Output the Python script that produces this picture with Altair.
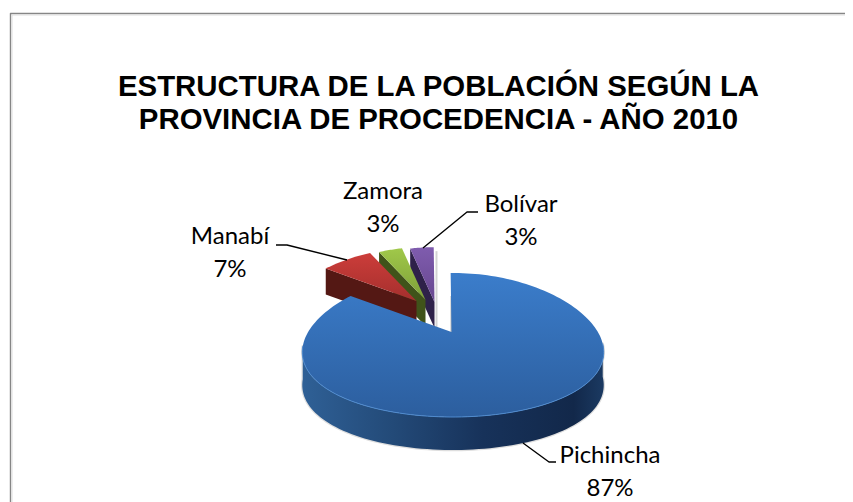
import math
import altair as alt

# ---- values ----
PROVINCES = ["Pichincha", "Manabí", "Zamora", "Bolívar"]
SHARES = [87.2, 6.7, 3.1, 3.0]
PERCENT_LABELS = ["87%", "7%", "3%", "3%"]
TITLE_LINES = ["ESTRUCTURA DE LA POBLACIÓN SEGÚN LA", "PROVINCIA DE PROCEDENCIA - AÑO 2010"]

# ---- layout (page pixels) ----
W, H = 837, 494
CX, CY, RX, RY = 453, 345, 150, 72
APEX = (451.5, 332)
DEPTH = 33
PERSP = 0.10
ROT = -1.0
EXPLODE = {"Manabí": ((416.5, 301), 0.90), "Zamora": ((425.5, 300), 0.90), "Bolívar": ((434.5, 302), 0.93)}
EX_DEPTH = 26
LABEL_POS = {"Pichincha": (610, 463), "Manabí": (230, 244), "Zamora": (383, 199), "Bolívar": (521, 212)}
LEADERS = {
    "Pichincha": [(556, 462), (549, 462), (523, 443)],
    "Manabí": [(276, 245), (287, 245), (347, 260)],
    "Bolívar": [(478, 212), (467, 212), (423, 248)],
}
COLORS = {
    "Manabí": (("#cc3d3a", "#a52f2d"), "#541814"),
    "Zamora": (("#a0c84a", "#7d9f38"), "#40531a"),
    "Bolívar": (("#7f5cae", "#67478f"), "#2e2149"),
}


def rel(theta_deg):
    t = math.radians(theta_deg + ROT)
    f = 1 - PERSP * math.cos(t)
    return (RX * math.sin(t) * f + (CX - APEX[0]), -RY * math.cos(t) + (CY - APEX[1]))


def arc(a0, a1, n=90):
    return [rel(a0 + (a1 - a0) * i / n) for i in range(n + 1)]


def poly(points):
    pts = [[x, -y] for x, y in points]
    pts.append(pts[0])
    return {"type": "Feature", "properties": {}, "geometry": {"type": "Polygon", "coordinates": [pts]}}


def path(points):
    return {"type": "Feature", "properties": {},
            "geometry": {"type": "LineString", "coordinates": [[x, -y] for x, y in points]}}


PROJ = dict(type="identity", reflectY=True, scale=1, translate=[-8, -8])


def fill_layer(feature, fill, **kw):
    return alt.Chart(alt.Data(values=[feature])).mark_geoshape(fill=fill, stroke=None, **kw).project(**PROJ)


def line_layer(feature, color, width):
    return alt.Chart(alt.Data(values=[feature])).mark_geoshape(
        filled=False, stroke=color, strokeWidth=width, strokeJoin="round").project(**PROJ)


def grad(stops, x2=0, y2=1):
    return alt.LinearGradient(gradient="linear", x1=0, y1=0, x2=x2, y2=y2,
                              stops=[alt.GradientStop(color=c, offset=o) for c, o in stops])


layers = []

# frame of the picture
layers.append(line_layer(path([(10.5, 510), (10.5, 13.5), (860, 13.5)]), "#868686", 1.4))
layers.append(line_layer(path([(12, 510), (12, 15), (860, 15)]), "#dddddd", 1))

# slices, from the cumulative shares
angles = []
acc = 0.0
for s in SHARES:
    angles.append((acc, acc + s))
    acc += s
deg = {p: (a * 3.6, b * 3.6) for p, (a, b) in zip(PROVINCES, angles)}

for name in ["Bolívar", "Zamora", "Manabí"]:
    (ax, ay), k = EXPLODE[name]
    a0, a1 = deg[name]
    outer = [(ax + k * x, ay + k * y) for x, y in arc(a0, a1, 16)]
    top = [(ax, ay)] + outer
    p = outer[0]
    wall = [(ax, ay), p, (p[0], p[1] + EX_DEPTH), (ax, ay + EX_DEPTH)]
    (c0, c1), cw = COLORS[name]
    if name == "Bolívar":
        layers.append(line_layer(path([(ax + 2, outer[-1][1] + 4), (ax + 2, ay + EX_DEPTH)]), "#d4d4d4", 2))
    layers.append(fill_layer(poly(wall), cw))
    layers.append(fill_layer(poly(top), grad([(c0, 0), (c1, 1)])))

# main slice
a0, a1 = deg["Pichincha"]
front = [(APEX[0] + x, APEX[1] + y) for x, y in arc(90, 270)]
wall = front + [(x, y + DEPTH) for x, y in reversed(front)]
top = [APEX] + [(APEX[0] + x, APEX[1] + y) for x, y in arc(a0, a1, 180)]
layers.append(line_layer(poly(wall), "#dedede", 2.5))
layers.append(line_layer(path([APEX, (APEX[0], APEX[1] - 36)]), "#b8b8b8", 2))
layers.append(fill_layer(poly(wall), grad([("#2f6096", 0), ("#234a78", 0.3), ("#17325a", 0.6),
                                           ("#12284a", 0.9), ("#1b3a62", 1)], x2=1, y2=0)))
layers.append(fill_layer(poly(top), grad([("#3b7dcb", 0), ("#2c5e9e", 1)])))
layers.append(line_layer(path(front), "#4f8bcf", 1))

# leader lines
for name, pts in LEADERS.items():
    layers.append(line_layer(path(pts), "#000000", 1.4))

# labels
for name, pct in zip(PROVINCES, PERCENT_LABELS):
    lx, ly = LABEL_POS[name]
    layers.append(
        alt.Chart(alt.Data(values=[{"label": f"{name}\n{pct}"}]))
        .mark_text(font="Lato", fontSize=24, color="#000000", align="center", baseline="alphabetic",
                   lineBreak="\n", lineHeight=33)
        .encode(text="label:N", x=alt.value(lx - 8), y=alt.value(ly - 8))
    )

chart = alt.layer(*layers).properties(
    width=W, height=H, padding=0, background="white",
    autosize=alt.AutoSizeParams(type="none"),
    title=alt.TitleParams(text=TITLE_LINES, font="Liberation Sans", fontSize=29.4, fontWeight="bold",
                          color="#000000", anchor="middle", lineHeight=33, dx=12, dy=127, offset=0),
).configure_view(stroke=None)

chart.save("out.html", embed_options={"renderer": "svg", "actions": False})
